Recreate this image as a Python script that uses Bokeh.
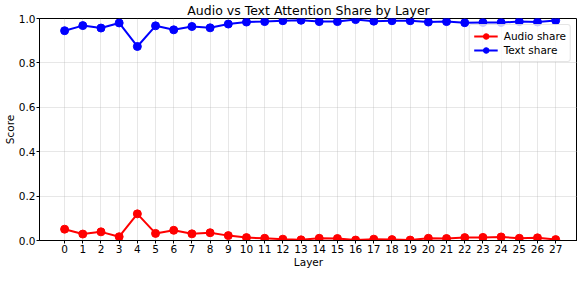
from bokeh.plotting import figure
from bokeh.models import Range1d, FixedTicker
from bokeh.embed import file_html
from bokeh.resources import INLINE

layers = list(range(28))
audio_share = [0.051, 0.029, 0.039, 0.017, 0.120, 0.032, 0.046, 0.030, 0.035, 0.022,
               0.013, 0.010, 0.006, 0.003, 0.010, 0.009, 0.002, 0.006, 0.004, 0.002,
               0.010, 0.009, 0.013, 0.014, 0.016, 0.010, 0.012, 0.004]
text_share = [0.945, 0.968, 0.957, 0.980, 0.874, 0.967, 0.949, 0.964, 0.958, 0.975,
              0.984, 0.986, 0.990, 0.992, 0.986, 0.986, 0.995, 0.988, 0.990, 0.990,
              0.984, 0.986, 0.981, 0.982, 0.982, 0.986, 0.984, 0.991]
y_ticks = [0.0, 0.2, 0.4, 0.6, 0.8, 1.0]

FONT = "DejaVu Sans"

p = figure(width=577, height=270, output_backend="svg", toolbar_location=None,
           x_range=Range1d(-1.38, 28.2), y_range=Range1d(0, 1.0),
           min_border_left=35, min_border_right=0, min_border_top=4, min_border_bottom=10,
           title="Audio vs Text Attention Share by Layer")

p.title.align = "center"
p.title.text_font = FONT
p.title.text_font_size = "12.5px"
p.title.text_font_style = "normal"
p.title.text_color = "black"
p.title.standoff = 1
p.title.offset = 0

p.line(layers, audio_share, color="#ff0000", line_width=2, legend_label="Audio share")
p.scatter(layers, audio_share, color="#ff0000", size=8, legend_label="Audio share")
p.line(layers, text_share, color="#0000ff", line_width=2, legend_label="Text share")
p.scatter(layers, text_share, color="#0000ff", size=8, legend_label="Text share")

p.xaxis.ticker = FixedTicker(ticks=layers)
p.yaxis.ticker = FixedTicker(ticks=y_ticks)
p.yaxis.major_label_overrides = {v: f"{v:.1f}" for v in y_ticks}

for ax in (p.xaxis[0], p.yaxis[0]):
    ax.major_tick_in = 0
    ax.major_tick_out = 3
    ax.minor_tick_in = 0
    ax.minor_tick_out = 0
    ax.major_label_standoff = 1
    ax.major_label_text_font = FONT
    ax.major_label_text_font_size = "10.5px"
    ax.major_label_text_color = "black"
    ax.axis_label_text_font = FONT
    ax.axis_label_text_font_size = "10.5px"
    ax.axis_label_text_font_style = "normal"
    ax.axis_label_text_color = "black"
    ax.axis_label_standoff = 0
    ax.axis_line_color = "black"
    ax.major_tick_line_color = "black"

p.xaxis.axis_label = "Layer"
p.yaxis.axis_label = "Score"

p.outline_line_color = "black"
p.outline_line_alpha = 1
p.xgrid.grid_line_color = "#b0b0b0"
p.ygrid.grid_line_color = "#b0b0b0"
p.xgrid.grid_line_alpha = 0.3
p.ygrid.grid_line_alpha = 0.3

p.legend.location = "top_right"
p.legend.margin = 6
p.legend.padding = 4
p.legend.spacing = 0
p.legend.label_text_font = FONT
p.legend.label_text_font_size = "10.5px"
p.legend.label_text_color = "black"
p.legend.label_height = 14
p.legend.glyph_height = 14
p.legend.glyph_width = 24
p.legend.label_standoff = 6
p.legend.border_line_color = "#cccccc"
p.legend.border_radius = 3
p.legend.background_fill_alpha = 0.8

open("out.html", "w").write(file_html(p, INLINE))
